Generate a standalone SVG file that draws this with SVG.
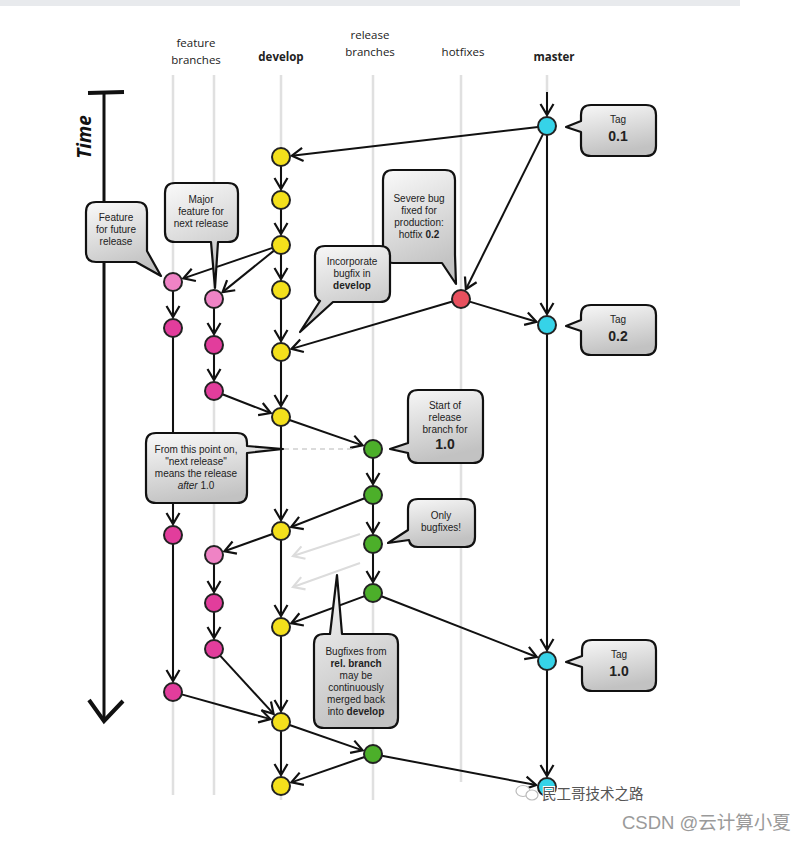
<svg xmlns="http://www.w3.org/2000/svg" width="810" height="841" viewBox="0 0 810 841">
<defs>
<linearGradient id="cg" x1="0" y1="0" x2="0.3" y2="1">
<stop offset="0" stop-color="#fafafa"/>
<stop offset="1" stop-color="#c2c2c2"/>
</linearGradient>
<marker id="ah" viewBox="-12 -8 14 16" refX="0" refY="0" markerWidth="14" markerHeight="16" markerUnits="userSpaceOnUse" orient="auto">
<path d="M-11,-6.5 L0,0 L-11,6.5" fill="none" stroke="#111" stroke-width="2.2" stroke-linejoin="miter"/>
</marker>
<marker id="ahg" viewBox="-12 -8 14 16" refX="0" refY="0" markerWidth="14" markerHeight="16" markerUnits="userSpaceOnUse" orient="auto">
<path d="M-11,-6.5 L0,0 L-11,6.5" fill="none" stroke="#dcdcdc" stroke-width="2.2"/>
</marker>
</defs>
<style>
.lane{stroke:#e0e0e0;stroke-width:2.5;fill:none}
.hdr{font-family:"Open Sans","Liberation Sans",sans-serif;font-size:11.5px;fill:#222;text-anchor:middle}
.b{font-weight:bold}
.e{stroke:#111;stroke-width:2;fill:none;marker-end:url(#ah)}
.eg{stroke:#dcdcdc;stroke-width:2;fill:none;marker-end:url(#ahg)}
.co{fill:url(#cg);stroke:#111;stroke-width:2.2;stroke-linejoin:round}
.ct{font-family:"Liberation Sans","Open Sans",sans-serif;font-size:10px;fill:#222;text-anchor:middle}
.tn{font-family:"Liberation Sans","Open Sans",sans-serif;font-size:14px;font-weight:bold;fill:#222;text-anchor:middle}
.n{stroke:#222;stroke-width:2}
.cy{fill:#36d3e8}.ye{fill:#f4e01c}.pl{fill:#ef83c5}.pm{fill:#e23d9c}.rd{fill:#e8505e}.gr{fill:#4caf2a}
</style>
<rect x="0" y="0" width="740" height="6" fill="#e8eaed"/>
<g id="lanes">
<line class="lane" x1="173" y1="75" x2="173" y2="795"/>
<line class="lane" x1="214" y1="75" x2="214" y2="795"/>
<line class="lane" x1="281" y1="75" x2="281" y2="800"/>
<line class="lane" x1="373" y1="75" x2="373" y2="800"/>
<line class="lane" x1="461" y1="75" x2="461" y2="782"/>
<line class="lane" x1="547" y1="75" x2="547" y2="800"/>
</g>
<g id="headers">
<text class="hdr" x="196" y="47">feature</text>
<text class="hdr" x="196" y="64">branches</text>
<text class="hdr b" x="281" y="61">develop</text>
<text class="hdr" x="370" y="39">release</text>
<text class="hdr" x="370" y="56">branches</text>
<text class="hdr" x="463" y="56">hotfixes</text>
<text class="hdr b" x="554" y="61">master</text>
</g>
<g id="time">
<path d="M88,93 L124,92" stroke="#111" stroke-width="4" fill="none"/>
<line x1="104" y1="93" x2="104" y2="718" stroke="#111" stroke-width="3"/>
<path d="M89,700 L104,721 L123,701" stroke="#111" stroke-width="4" fill="none" stroke-linejoin="miter"/>
<text x="0" y="0" transform="translate(91,137) rotate(-90)" font-family="'Open Sans','Liberation Sans',sans-serif" font-size="19" font-weight="bold" font-style="italic" fill="#111" text-anchor="middle">Time</text>
</g>
<g id="connectors">
<line class="e" x1="547" y1="92" x2="547" y2="115"/>
<line class="e" x1="538.1" y1="127" x2="291.9" y2="155.7"/>
<line class="e" x1="543" y1="134.1" x2="465.9" y2="289.2"/>
<line class="e" x1="547" y1="135" x2="547" y2="314"/>
<line class="e" x1="469.6" y1="301.6" x2="536.5" y2="321.8"/>
<line class="e" x1="452.4" y1="301.5" x2="291.5" y2="348.9"/>
<line class="e" x1="281" y1="166" x2="281" y2="189"/>
<line class="e" x1="281" y1="209" x2="281" y2="234"/>
<line class="e" x1="281" y1="254" x2="281" y2="279"/>
<line class="e" x1="281" y1="299" x2="281" y2="341"/>
<line class="e" x1="281" y1="361" x2="281" y2="406"/>
<line class="e" x1="281" y1="426" x2="281" y2="520"/>
<line class="e" x1="281" y1="540" x2="281" y2="616"/>
<line class="e" x1="281" y1="636" x2="281" y2="711"/>
<line class="e" x1="281" y1="731" x2="281" y2="775"/>
<line class="e" x1="272.5" y1="247.9" x2="183.4" y2="278.4"/>
<line class="e" x1="274" y1="250.6" x2="222.6" y2="292.1"/>
<line class="e" x1="173" y1="291" x2="173" y2="317"/>
<line class="e" x1="173" y1="337" x2="173" y2="524"/>
<line class="e" x1="173" y1="544" x2="173" y2="681"/>
<line class="e" x1="214" y1="308" x2="214" y2="334"/>
<line class="e" x1="214" y1="354" x2="214" y2="380"/>
<line class="e" x1="222.4" y1="394.3" x2="270.7" y2="413"/>
<line class="e" x1="289.5" y1="420" x2="362.6" y2="445.4"/>
<line x1="284" y1="449" x2="355" y2="449" stroke="#d0d0d0" stroke-width="1.5" stroke-dasharray="5,4"/>
<line class="e" x1="373" y1="458" x2="373" y2="484"/>
<line class="e" x1="373" y1="504" x2="373" y2="533"/>
<line class="e" x1="373" y1="553" x2="373" y2="582"/>
<line class="e" x1="364.6" y1="498.3" x2="291.2" y2="527"/>
<line class="e" x1="272.5" y1="534" x2="224.4" y2="551.3"/>
<line class="e" x1="214" y1="564" x2="214" y2="592"/>
<line class="e" x1="214" y1="612" x2="214" y2="638"/>
<line class="eg" x1="360" y1="534" x2="293" y2="556"/>
<line class="eg" x1="360" y1="563" x2="293" y2="587"/>
<line class="e" x1="364.6" y1="596.1" x2="291.3" y2="623.2"/>
<line class="e" x1="381.4" y1="596.3" x2="536.8" y2="657"/>
<line class="e" x1="547" y1="334" x2="547" y2="650"/>
<line class="e" x1="547" y1="670" x2="547" y2="776"/>
<line class="e" x1="220.1" y1="655.6" x2="273.6" y2="713.9"/>
<line class="e" x1="181.7" y1="694.4" x2="270.4" y2="719.1"/>
<line class="e" x1="289.5" y1="725" x2="362.6" y2="750.4"/>
<line class="e" x1="364.5" y1="757" x2="291.4" y2="782.4"/>
<line class="e" x1="381.8" y1="755.7" x2="536.2" y2="785"/>
</g>
<g id="master-nodes">
<circle class="n cy" cx="547" cy="126" r="9"/>
<circle class="n cy" cx="547" cy="325" r="9"/>
<circle class="n cy" cx="547" cy="661" r="9"/>
<circle class="n cy" cx="547" cy="787" r="9"/>
</g>
<g id="develop-nodes">
<circle class="n ye" cx="281" cy="157" r="9"/>
<circle class="n ye" cx="281" cy="200" r="9"/>
<circle class="n ye" cx="281" cy="245" r="9"/>
<circle class="n ye" cx="281" cy="290" r="9"/>
<circle class="n ye" cx="281" cy="352" r="9"/>
<circle class="n ye" cx="281" cy="417" r="9"/>
<circle class="n ye" cx="281" cy="531" r="9"/>
<circle class="n ye" cx="281" cy="627" r="9"/>
<circle class="n ye" cx="281" cy="722" r="9"/>
<circle class="n ye" cx="281" cy="786" r="9"/>
</g>
<g id="feature-nodes">
<circle class="n pl" cx="173" cy="282" r="9"/>
<circle class="n pm" cx="173" cy="328" r="9"/>
<circle class="n pm" cx="173" cy="535" r="9"/>
<circle class="n pm" cx="173" cy="692" r="9"/>
<circle class="n pl" cx="214" cy="299" r="9"/>
<circle class="n pm" cx="214" cy="345" r="9"/>
<circle class="n pm" cx="214" cy="391" r="9"/>
<circle class="n pl" cx="214" cy="555" r="9"/>
<circle class="n pm" cx="214" cy="603" r="9"/>
<circle class="n pm" cx="214" cy="649" r="9"/>
</g>
<g id="hotfix-node">
<circle class="n rd" cx="461" cy="299" r="9"/>
</g>
<g id="release-nodes">
<circle class="n gr" cx="373" cy="449" r="9"/>
<circle class="n gr" cx="373" cy="495" r="9"/>
<circle class="n gr" cx="373" cy="544" r="9"/>
<circle class="n gr" cx="373" cy="593" r="9"/>
<circle class="n gr" cx="373" cy="754" r="9"/>
</g>
<g id="tag01">
<path class="co" d="M591,105 H646 Q656,105 656,115 V146 Q656,156 646,156 H591 Q581,156 581,146 V132 L566,127 L581,121 V115 Q581,105 591,105 Z"/>
<text class="ct" x="618" y="123">Tag</text>
<text class="tn" x="618" y="141">0.1</text>
</g>
<g id="tag02">
<path class="co" d="M591,305 H646 Q656,305 656,315 V345 Q656,355 646,355 H591 Q581,355 581,345 V331 L566,326 L581,320 V315 Q581,305 591,305 Z"/>
<text class="ct" x="618" y="323">Tag</text>
<text class="tn" x="618" y="341">0.2</text>
</g>
<g id="tag10">
<path class="co" d="M592,640 H646 Q656,640 656,650 V681 Q656,691 646,691 H592 Q582,691 582,681 V667 L566,662 L582,656 V650 Q582,640 592,640 Z"/>
<text class="ct" x="619" y="658">Tag</text>
<text class="tn" x="619" y="676">1.0</text>
</g>
<g id="note-future">
<path class="co" d="M96,202 H137 Q147,202 147,212 V251 L161,276 L136,262 H96 Q86,262 86,252 V212 Q86,202 96,202 Z"/>
<text class="ct" x="116" y="221">Feature</text>
<text class="ct" x="116" y="233">for future</text>
<text class="ct" x="116" y="245">release</text>
</g>
<g id="note-major">
<path class="co" d="M175,183 H228 Q238,183 238,193 V232 Q238,242 228,242 H218 L215,288 L211,242 H175 Q165,242 165,232 V193 Q165,183 175,183 Z"/>
<text class="ct" x="201" y="203">Major</text>
<text class="ct" x="201" y="215">feature for</text>
<text class="ct" x="201" y="227">next release</text>
</g>
<g id="note-severe">
<path class="co" d="M393,170 H445 Q455,170 455,180 V255 L456,284 L442,263 H393 Q383,263 383,253 V180 Q383,170 393,170 Z"/>
<text class="ct" x="419" y="202">Severe bug</text>
<text class="ct" x="419" y="214">fixed for</text>
<text class="ct" x="419" y="226">production:</text>
<text class="ct" x="419" y="238">hotfix <tspan class="b">0.2</tspan></text>
</g>
<g id="note-incorporate">
<path class="co" d="M325,246 H380 Q390,246 390,256 V292 Q390,302 380,302 H333 L300,332 L320,301 Q315,299 315,292 V256 Q315,246 325,246 Z"/>
<text class="ct" x="352" y="265">Incorporate</text>
<text class="ct" x="352" y="277">bugfix in</text>
<text class="ct b" x="352" y="289">develop</text>
</g>
<g id="note-start">
<path class="co" d="M418,390 H473 Q483,390 483,400 V453 Q483,463 473,463 H418 Q408,463 408,453 V453 L390,449 L408,443 V400 Q408,390 418,390 Z"/>
<text class="ct" x="445" y="409">Start of</text>
<text class="ct" x="445" y="421">release</text>
<text class="ct" x="445" y="433">branch for</text>
<text class="tn" x="445" y="449" font-size="13">1.0</text>
</g>
<g id="note-frompoint">
<path class="co" d="M156,433 H237 Q247,433 247,443 V446 L283,449 L247,453 V493 Q247,503 237,503 H156 Q146,503 146,493 V443 Q146,433 156,433 Z"/>
<text class="ct" x="196" y="453">From this point on,</text>
<text class="ct" x="196" y="465">"next release"</text>
<text class="ct" x="196" y="477">means the release</text>
<text class="ct" x="196" y="489"><tspan font-style="italic">after</tspan> 1.0</text>
</g>
<g id="note-only">
<path class="co" d="M418,499 H465 Q475,499 475,509 V537 Q475,547 465,547 H418 Q410,547 409,540 L388,543 L408,530 V509 Q408,499 418,499 Z"/>
<text class="ct" x="441" y="519">Only</text>
<text class="ct" x="441" y="531">bugfixes!</text>
</g>
<g id="note-bugfixes">
<path class="co" d="M324,634 H330 L337,575 L342,634 H388 Q398,634 398,644 V718 Q398,728 388,728 H324 Q314,728 314,718 V644 Q314,634 324,634 Z"/>
<text class="ct" x="356" y="655">Bugfixes from</text>
<text class="ct b" x="356" y="667">rel. branch</text>
<text class="ct" x="356" y="679">may be</text>
<text class="ct" x="356" y="691">continuously</text>
<text class="ct" x="356" y="703">merged back</text>
<text class="ct" x="356" y="715">into <tspan class="b">develop</tspan></text>
</g>
<g id="watermark">
<ellipse cx="523" cy="791" rx="7" ry="5.5" fill="#fff" stroke="#bbb" stroke-width="1.2"/>
<ellipse cx="532" cy="795" rx="6" ry="5" fill="#fff" stroke="#bbb" stroke-width="1.2"/>
<text x="542" y="799" font-family="'Noto Sans CJK SC',sans-serif" font-size="14.5" fill="#555" stroke="#fff" stroke-width="2" paint-order="stroke">民工哥技术之路</text>
<text x="622" y="829" font-family="'Liberation Sans','Noto Sans CJK SC',sans-serif" font-size="18.5" fill="#9a9a9a">CSDN @云计算小夏</text>
</g>
</svg>
